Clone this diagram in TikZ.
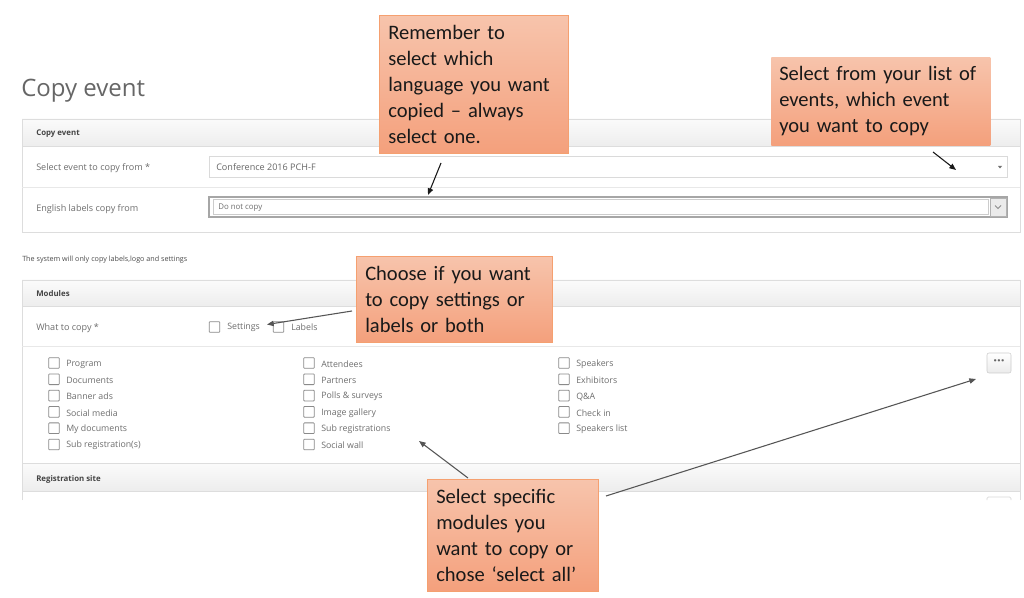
\documentclass[tikz,border=0pt]{standalone}
\usepackage{fontspec}
\setmainfont{Open Sans}
\newfontfamily\callfont{Carlito}
\usetikzlibrary{arrows.meta}
\definecolor{calltop}{HTML}{F7C4AC}
\definecolor{callbot}{HTML}{F4A07C}
\definecolor{callborder}{HTML}{F5A070}
\definecolor{panelline}{HTML}{DDDDDD}
\definecolor{rowline}{HTML}{E8E8E8}
\definecolor{hdrtop}{HTML}{FBFBFB}
\definecolor{hdrbot}{HTML}{EDEDED}
\definecolor{lbltxt}{HTML}{6E6E6E}
\definecolor{hdrtxt}{HTML}{444444}
\definecolor{cbgray}{HTML}{8A8A8A}
\definecolor{fieldline}{HTML}{DADADA}
\definecolor{arrgray}{HTML}{555555}
\begin{document}
\begin{tikzpicture}[x=0.75pt,y=-0.75pt,
  lbl/.style={anchor=west, inner sep=0pt, font=\fontsize{6.8}{8}\selectfont, text=lbltxt},
  modtxt/.style={anchor=west, inner sep=0pt, font=\fontsize{6.6}{8}\selectfont, text=lbltxt},
  hdr/.style={anchor=west, inner sep=0pt, font=\fontsize{5.9}{7}\selectfont\bfseries, text=hdrtxt},
  cbox/.style={draw=cbgray, line width=0.6pt, rounded corners=0.6pt, fill=white, minimum size=8pt, inner sep=0pt},
  callout/.style={anchor=north west, draw=callborder, line width=0.4pt, top color=calltop, bottom color=callbot,
    font=\callfont\fontsize{15.4}{19.5}\selectfont, align=left, inner xsep=6.75pt, inner ysep=0pt, text=black!90},
  hdrband/.style={top color=hdrtop, bottom color=hdrbot, draw=none},
  arr/.style={-{Triangle[length=5pt,width=4pt]}, line width=0.8pt},
]
\useasboundingbox (0,0) rectangle (1024,598);
\fill[white] (0,0) rectangle (1024,598);

% Title
\node[anchor=west, inner sep=0pt, font=\fontsize{18}{20}\selectfont, text=black!60] (title) at (21,91) {Copy event};

% ---------- Panel 1 ----------
\shade[hdrband] (22,119) rectangle (1020,146);
\draw[panelline, line width=0.6pt] (22,119) rectangle (1020,232);
\draw[panelline, line width=0.5pt] (22,146) -- (1020,146);
\draw[rowline, line width=0.6pt] (22,187) -- (1020,187);
\node[hdr] (h1) at (36,133.5) {Copy event};

\node[lbl] (l1) at (36,168) {Select event to copy from *};
\draw[fieldline, line width=0.5pt] (209,156) rectangle (1007,177);
\node[lbl, text=black!60] (f1) at (216,167) {Conference 2016 PCH-F};
\fill[black!55] (998,166) -- (1002,166) -- (1000,168.5) -- cycle;

\node[lbl] (l2) at (36,209) {English labels copy from};
\draw[black!35, line width=0.8pt] (209,197) rectangle (1007,217);
\draw[black!20, line width=0.5pt] (213,199.5) rectangle (988,214.5);
\node[lbl, font=\fontsize{5.9}{7}\selectfont] (f2) at (218,207.5) {Do not copy};
\fill[black!8] (990,198) rectangle (1006,216);
\draw[black!30, line width=0.5pt] (990,198) rectangle (1006,216);
\draw[black!45, line width=0.6pt] (995,205.5) -- (998,208.5) -- (1001,205.5);

\node[anchor=west, inner sep=0pt, font=\fontsize{5.4}{6.5}\selectfont, text=black!70] (note) at (22,260) {The system will only copy labels,logo and settings};

% ---------- Panel 2 ----------
\shade[hdrband] (22,280) rectangle (1020,306);
\shade[hdrband] (22,463) rectangle (1020,491);
\draw[panelline, line width=0.6pt] (22,500) -- (22,280) -- (1020,280) -- (1020,500);
\draw[panelline, line width=0.5pt] (22,306) -- (1020,306);
\draw[rowline, line width=0.6pt] (22,346) -- (1020,346);
\draw[panelline, line width=0.5pt] (22,463) -- (1020,463);
\draw[panelline, line width=0.5pt] (22,491) -- (1020,491);
\node[hdr] (h2) at (36,294) {Modules};
\node[hdr] (h3) at (36,479) {Registration site};
\draw[black!15, line width=0.6pt, rounded corners=1pt] (987,500) -- (987,497) -- (1011,497) -- (1011,500);

\node[lbl] (l3) at (36,328) {What to copy *};
\node[cbox] (cbs) at (214.5,327) {};
\node[modtxt] (ts) at (227,327.5) {Settings};
\node[cbox] (cbl) at (278.5,327) {};
\node[modtxt] (tl) at (291,327.5) {Labels};

\foreach \t [count=\i] in {Program,Documents,Banner ads,Social media,My documents,Sub registration(s)} {
  \node[cbox] (ca\i) at (54,{363+(\i-1)*16.3}) {};
  \node[modtxt] (ma\i) at (66,{364+(\i-1)*16.3}) {\t};
}
\foreach \t [count=\i] in {Attendees,Partners,Polls \& surveys,Image gallery,Sub registrations,Social wall} {
  \node[cbox] (cb\i) at (309,{363+(\i-1)*16.3}) {};
  \node[modtxt] (mb\i) at (321,{364+(\i-1)*16.3}) {\t};
}
\foreach \t [count=\i] in {Speakers,Exhibitors,Q\&A,Check in,Speakers list} {
  \node[cbox] (cc\i) at (564,{363+(\i-1)*16.3}) {};
  \node[modtxt] (mc\i) at (576,{364+(\i-1)*16.3}) {\t};
}
\node[draw=black!20, top color=white, bottom color=black!8, rounded corners=1.5pt, minimum width=18pt, minimum height=15pt, inner sep=0pt, font=\fontsize{10}{10}\selectfont\bfseries, text=black!60] (more) at (999,363) {···};

% ---------- Callouts ----------
\node[callout, text width=128.25pt, minimum height=103.5pt] (c1) at (379,15)
  {Remember to\\select which\\language you want\\copied – always\\select one.};
\node[callout, draw=none, inner xsep=6pt, text width=152.25pt, minimum height=66pt] (c2) at (771,57)
  {Select from your list of\\events, which event\\you want to copy};
\node[callout, text width=133.5pt, minimum height=64.5pt] (c3) at (356,256)
  {Choose if you want\\to copy settings or\\labels or both};
\node[callout, text width=114.75pt, minimum height=84pt] (c4) at (427,479)
  {Select specific\\modules you\\want to copy or\\chose ‘select all’};

% ---------- Arrows ----------
\coordinate (a1s) at (441,163);
\coordinate (a1e) at (428,195);
\coordinate (a2s) at (933,152);
\coordinate (a2e) at (956,170);
\coordinate (a3s) at (352,311);
\coordinate (a3e) at (267,324.5);
\coordinate (a4s) at (468,478);
\coordinate (a4e) at (419,441);
\coordinate (a5s) at (606,496);
\coordinate (a5e) at (976,379);
\draw[arr, black!90] (a1s) -- (a1e);
\draw[arr, black!90] (a2s) -- (a2e);
\draw[arr, arrgray] (a3s) -- (a3e);
\draw[arr, arrgray] (a4s) -- (a4e);
\draw[arr, arrgray] (a5s) -- (a5e);
\end{tikzpicture}
\end{document}
